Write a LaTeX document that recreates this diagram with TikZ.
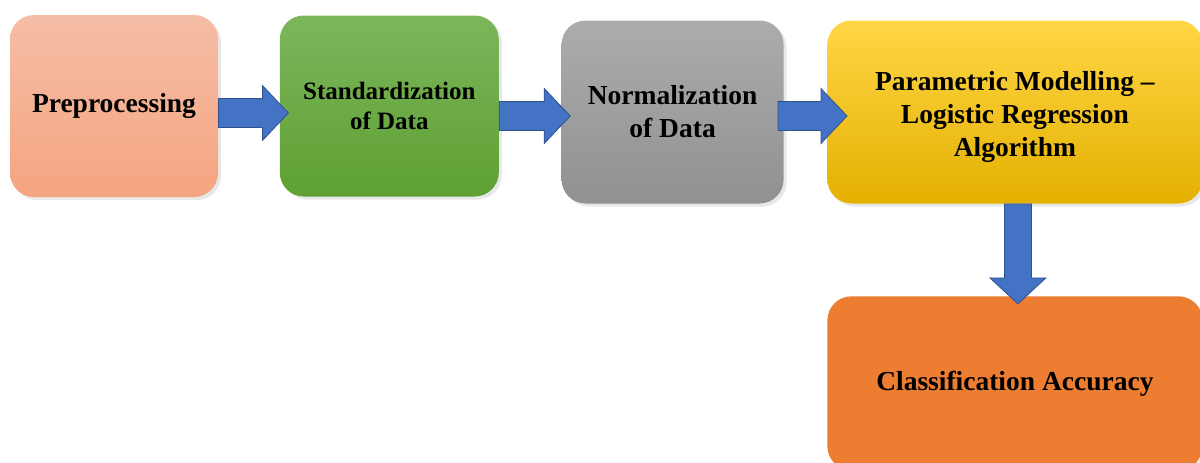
\documentclass[tikz,border=0pt]{standalone}
\usepackage{fontspec}
\setmainfont{Liberation Serif}
\usetikzlibrary{positioning,calc,shadows}

\definecolor{arrowblue}{HTML}{4472C4}
\definecolor{arrowedge}{HTML}{2F528F}

\begin{document}
\begin{tikzpicture}[node distance=30pt,
    box/.style={rectangle, rounded corners=12pt, align=center, inner sep=0pt,
      font=\bfseries\fontsize{13.75}{16.5}\selectfont,
      drop shadow={opacity=0.18, shadow xshift=1.5pt, shadow yshift=-1.5pt}},
    barrow/.style={draw=arrowedge, line width=0.4pt, fill=arrowblue,
      to path={let \p1=(\tikztostart), \p2=(\tikztotarget) in
        (\x1,\y1+7.25pt) -- (\x2-13pt,\y1+7.25pt) -- (\x2-13pt,\y1+13.75pt) -- (\x2,\y1)
        -- (\x2-13pt,\y1-13.75pt) -- (\x2-13pt,\y1-7.25pt) -- (\x1,\y1-7.25pt) -- cycle}},
    darrow/.style={draw=arrowedge, line width=0.4pt, fill=arrowblue,
      to path={let \p1=(\tikztostart), \p2=(\tikztotarget) in
        (\x1-6.75pt,\y1) -- (\x1-6.75pt,\y2+13pt) -- (\x1-14pt,\y2+13pt) -- (\x1,\y2)
        -- (\x1+14pt,\y2+13pt) -- (\x1+6.75pt,\y2+13pt) -- (\x1+6.75pt,\y1) -- cycle}}]
  \useasboundingbox (0,0) rectangle (600pt,231pt);
  \clip (0,0) rectangle (600pt,231pt);

  \node[box, top color={rgb,255:red,245;green,190;blue,166}, bottom color={rgb,255:red,245;green,164;blue,128},
    minimum width=104pt, minimum height=91pt] (pre) at (57pt,178pt) {Preprocessing};
  \node[box, top color={rgb,255:red,124;green,182;blue,92}, bottom color={rgb,255:red,94;green,160;blue,50},
    minimum width=109.5pt, minimum height=90.5pt, font=\bfseries\fontsize{12.5}{15}\selectfont,
    right=30.5pt of pre] (stand) {Standardization\\of Data};
  \node[box, top color={rgb,255:red,172;green,172;blue,172}, bottom color={rgb,255:red,145;green,145;blue,145},
    minimum width=111pt, minimum height=91.5pt, right=31pt of stand, yshift=-3pt] (norm) {Normalization\\of Data};
  \node[box, top color={rgb,255:red,255;green,214;blue,70}, middle color={rgb,255:red,250;green,194;blue,0},
    bottom color={rgb,255:red,228;green,176;blue,0},
    minimum width=187.5pt, minimum height=91.5pt, right=21.5pt of norm] (param)
    {\rule{0pt}{15pt}Parametric Modelling --\\Logistic Regression\\Algorithm};
  \node[box, fill={rgb,255:red,237;green,125;blue,49},
    minimum width=187.5pt, minimum height=87pt, below=46pt of param] (acc) {Classification Accuracy};

  \path ([yshift=-3.5pt]pre.east) edge[barrow] ([xshift=4.5pt]stand.west)
        ([yshift=-5pt]stand.east) edge[barrow] ([xshift=4.5pt]norm.west)
        ([xshift=-3pt,yshift=-2pt]norm.east) edge[barrow] ([xshift=10pt]param.west)
        ([xshift=1.5pt]param.south) edge[darrow] ([yshift=-4pt]acc.north);
\end{tikzpicture}
\end{document}
